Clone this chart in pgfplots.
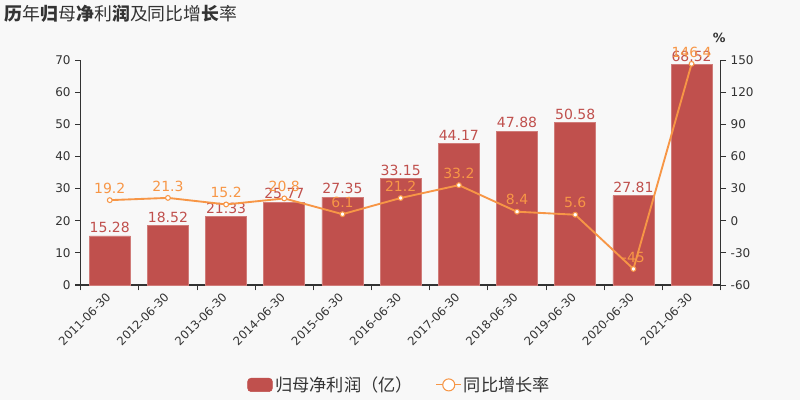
\documentclass[border=0pt]{standalone}
\usepackage{pgfplots}
\pgfplotsset{compat=1.18}
\usepackage{fontspec}
\setmainfont{DejaVu Sans}
\newfontfamily\cjk{Noto Sans CJK SC}
\definecolor{bg}{HTML}{F8F8F8}
\definecolor{barred}{HTML}{C0504D}
\definecolor{lineor}{HTML}{F79646}
\definecolor{txt}{HTML}{333333}
\begin{document}
\begin{tikzpicture}
\fill[bg] (0pt,0pt) rectangle (600pt,300pt);
\useasboundingbox (0pt,0pt) rectangle (600pt,300pt);
\node[anchor=west, inner sep=0pt, text=txt, font=\cjk\fontsize{13.4}{15}\selectfont] at (3.5pt,289.5pt) {\textbf{历}年\textbf{归}母\textbf{净}利\textbf{润}及同比增\textbf{长}率};
\begin{axis}[
  at={(60.5pt,86.25pt)}, anchor=south west, scale only axis,
  width=480pt, height=168.75pt,
  xmin=-0.5, xmax=10.5, ymin=0, ymax=70,
  ytick={0,10,...,70},
  axis y line*=left, axis x line*=bottom,
  axis line style={txt, line width=0.75pt},
  xtick={0,...,10},
  xticklabels={2011-06-30,2012-06-30,2013-06-30,2014-06-30,2015-06-30,2016-06-30,2017-06-30,2018-06-30,2019-06-30,2020-06-30,2021-06-30},
  minor xtick={-0.5,0.5,...,10.5},
  major x tick style={draw=none},
  minor tick length=4pt, major tick length=4pt,
  tick align=outside,
  tick style={txt, line width=0.75pt},
  x tick label style={rotate=45, anchor=east, font=\fontsize{8.7}{10}\selectfont, text=txt, yshift=-2pt},
  y tick label style={font=\fontsize{9}{10}\selectfont, text=txt},
  /pgf/number format/assume math mode=true,
  clip=false,
]
\addplot[ybar, bar width=30.75pt, fill=barred, draw=barred!75!white, line width=0.5pt,
  point meta=explicit symbolic,
  nodes near coords, every node near coord/.append style={text=barred, font=\fontsize{10.5}{12}\selectfont, inner sep=2pt}]
coordinates {
(0,15.28) [15.28]
(1,18.52) [18.52]
(2,21.33) [21.33]
(3,25.77) [25.77]
(4,27.35) [27.35]
(5,33.15) [33.15]
(6,44.17) [44.17]
(7,47.88) [47.88]
(8,50.58) [50.58]
(9,27.81) [27.81]
(10,68.52) [68.52]
};
\end{axis}
\begin{axis}[
  at={(60.5pt,86.25pt)}, anchor=south west, scale only axis,
  width=480pt, height=168.75pt,
  xmin=-0.5, xmax=10.5, ymin=-60, ymax=150,
  ytick={-60,-30,...,150},
  axis y line*=right, axis x line=none,
  axis line style={txt, line width=0.75pt},
  tick align=outside, major tick length=4pt,
  tick style={txt, line width=0.75pt},
  y tick label style={font=\fontsize{9}{10}\selectfont, text=txt},
  /pgf/number format/assume math mode=true,
  clip=false,
  legend style={at={(0.499,-0.444)}, anchor=center, draw=none, fill=none,
    font=\cjk\fontsize{12.9}{14}\selectfont, text=txt, legend columns=2,
    /tikz/every even column/.append style={column sep=15pt}},
]
\addlegendimage{legend image code/.code={\fill[barred, rounded corners=2.5pt] (-2.5pt,-5pt) rectangle (16pt,5pt);}}
\addlegendentry{归母净利润（亿）}
\addplot[color=lineor, line width=1.4pt, mark=*, mark size=1.8pt,
  mark options={fill=white, draw=lineor, line width=0.8pt},
  point meta=explicit symbolic,
  nodes near coords, every node near coord/.append style={text=lineor, font=\fontsize{10.5}{12}\selectfont, inner sep=4.5pt},
  legend image code/.code={\draw[lineor, line width=0.8pt] (-2.5pt,0) -- (16pt,0); \draw[lineor, fill=white, line width=0.8pt] (7pt,0) circle (4.5pt);}]
coordinates {
(0,19.2) [19.2]
(1,21.3) [21.3]
(2,15.2) [15.2]
(3,20.8) [20.8]
(4,6.1) [6.1]
(5,21.2) [21.2]
(6,33.2) [33.2]
(7,8.4) [8.4]
(8,5.6) [5.6]
(9,-45) [-45]
(10,146.4) [146.4]
};
\addlegendentry{同比增长率}
\end{axis}
\node[text=txt, font=\bfseries\fontsize{9.5}{11}\selectfont] at (539.5pt,271.5pt) {\%};
\end{tikzpicture}
\end{document}
